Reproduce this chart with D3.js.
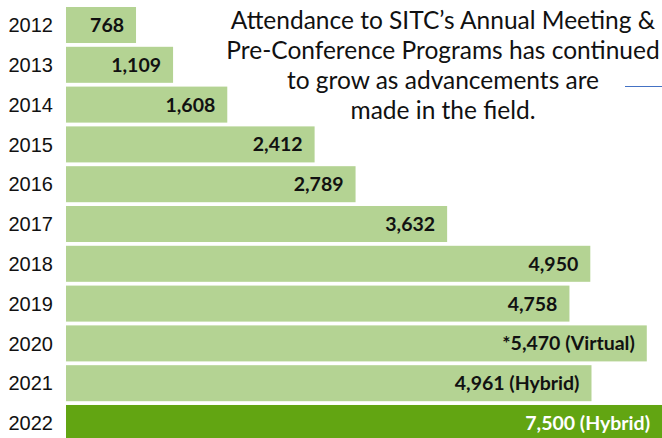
<!DOCTYPE html>
<html>
<head>
<meta charset="utf-8">
<script src="https://cdn.jsdelivr.net/npm/d3@7"></script>
<style>
    body { margin: 0; background: #fff; }
    svg { display: block; font-family: Lato, 'Open Sans', sans-serif; }
    .year { font-size: 20px; fill: #111; }
    .bar_label { font-size: 19.5px; font-weight: bold; fill: #111; }
    .bar_label-active { fill: #fff; }
    .note { font-size: 24.5px; fill: #111; }
</style>
</head>
<body>
<svg id="chart" width="662" height="438"></svg>
<script>
const years = ['2012', '2013', '2014', '2015', '2016', '2017', '2018', '2019', '2020', '2021', '2022'];
const attendance = [768, 1109, 1608, 2412, 2789, 3632, 4950, 4758, 5470, 4961, 7500];
const barLabels = ['768', '1,109', '1,608', '2,412', '2,789', '3,632', '4,950', '4,758',
    '*5,470 (Virtual)', '4,961 (Hybrid)', '7,500 (Hybrid)'];
const noteLines = [
    'Attendance to SITC\u2019s Annual Meeting &',
    'Pre-Conference Programs has continued',
    'to grow as advancements are',
    'made in the field.'
];

const width = 662;
const height = 438;
const plotLeft = 66;

function translate(x, y) {
    return `translate(${x}, ${y})`;
}

const svg = d3.select('#chart');

// picture is a crop: the value axis starts left of the visible bar edge
const xScale = d3.scaleLinear()
    .domain([0, 7500])
    .range([52.6, 867.3]);
const yScale = d3.scaleBand()
    .domain(years)
    .range([7, 441])
    .paddingInner(0.095)
    .paddingOuter(0);

svg.append('clipPath')
    .attr('id', 'plot-clip')
    .append('rect')
    .attr('x', plotLeft)
    .attr('y', 0)
    .attr('width', width - plotLeft)
    .attr('height', height);

const data = years.map((y, i) => ({ year: y, value: attendance[i], label: barLabels[i] }));
const last = years[years.length - 1];

svg.append('g')
    .attr('clip-path', 'url(#plot-clip)')
    .selectAll('rect')
    .data(data)
    .enter()
    .append('rect')
    .attr('x', xScale(0))
    .attr('y', d => yScale(d.year))
    .attr('width', d => xScale(d.value) - xScale(0))
    .attr('height', yScale.bandwidth())
    .attr('fill', d => d.year === last ? '#62a512' : '#b4d393');

svg.append('g')
    .attr('class', 'bar_yAxis')
    .attr('transform', translate(53, 0))
    .call(d3.axisLeft(yScale).tickSize(0).tickPadding(0))
    .call(g => g.select('.domain').remove())
    .call(g => g.selectAll('.tick text')
        .attr('class', 'year')
        .attr('font-family', null)
        .attr('font-size', null)
        .attr('fill', null)
        .attr('dy', '0.36em'));

svg.append('g')
    .selectAll('text')
    .data(data)
    .enter()
    .append('text')
    .attr('class', d => d.year === last ? 'bar_label bar_label-active' : 'bar_label')
    .attr('x', d => Math.min(xScale(d.value), width) - 12)
    .attr('y', d => yScale(d.year) + yScale.bandwidth() / 2)
    .attr('dy', '0.36em')
    .attr('text-anchor', 'end')
    .text(d => d.label);

svg.append('g')
    .selectAll('text')
    .data(noteLines)
    .enter()
    .append('text')
    .attr('class', 'note')
    .attr('x', 443)
    .attr('y', (d, i) => 29 + i * 30)
    .attr('text-anchor', 'middle')
    .text(d => d);

svg.append('line')
    .attr('x1', 625)
    .attr('x2', 662)
    .attr('y1', 86.5)
    .attr('y2', 86.5)
    .attr('stroke', '#4472c4')
    .attr('stroke-width', 1);
</script>
</body>
</html>
